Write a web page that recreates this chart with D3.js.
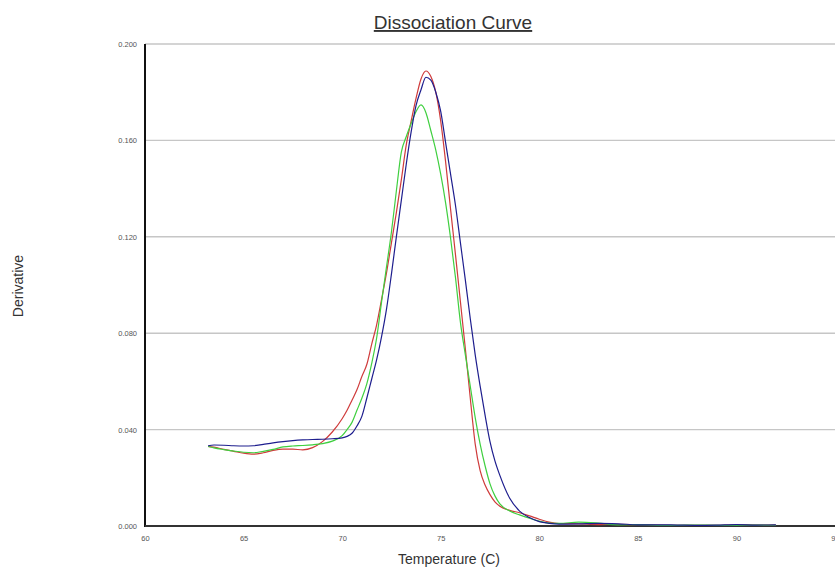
<!DOCTYPE html>
<html>
<head>
<meta charset="utf-8">
<script src="https://cdn.jsdelivr.net/npm/d3@7/dist/d3.min.js"></script>
<style>
  body { margin: 0; background: #fff; }
  svg { display: block; font-family: "Liberation Sans", Arial, sans-serif; }
</style>
</head>
<body>
<svg id="chart"></svg>
<script>
// Dissociation curve: three melt-curve derivatives

const temps = [63.2, 63.5, 64, 64.5, 65, 65.5, 66, 66.5, 67, 67.5, 68, 68.5, 69, 69.5, 70,
  70.25, 70.5, 70.75, 71, 71.25, 71.5, 71.75, 72, 72.25, 72.5, 72.75, 73, 73.25, 73.5, 73.75, 74,
  74.25, 74.5, 74.75, 75, 75.25, 75.5, 75.75, 76, 76.25, 76.5, 76.75, 77, 77.25, 77.5, 77.75, 78,
  78.5, 79, 79.5, 80, 80.5, 81, 82, 83, 84, 85, 86, 87, 88, 89, 90, 91, 92];

const redVals = [.0330, .0327, .0318, .0310, .0302, .0298, .0304, .0314, .0319, .0319, .0316, .0325, .0350, .0390, .0445,
  .0480, .0522, .0565, .0620, .0670, .0755, .0835, .0940, .1050, .1175, .1300, .1435, .1580, .1680, .1775, .1855,
  .1888, .1865, .1800, .1680, .1510, .1315, .1125, .0930, .0735, .0530, .0340, .0230, .0170, .0130, .0100, .0082,
  .0065, .0055, .0042, .0028, .0016, .0010, .0009, .0006, .0007, .0006, .0004, .0003, .0003, .0003, .0005, .0004, .0004];

const greenVals = [.0330, .0324, .0317, .0311, .0306, .0304, .0310, .0318, .0328, .0332, .0334, .0337, .0342, .0352, .0375,
  .0400, .0430, .0480, .0530, .0590, .0675, .0780, .0930, .1075, .1220, .1390, .1550, .1615, .1670, .1720, .1747,
  .1715, .1640, .1560, .1460, .1340, .1195, .1030, .0845, .0710, .0580, .0450, .0340, .0250, .0175, .0125, .0092,
  .0062, .0046, .0032, .0020, .0012, .0011, .0016, .0012, .0005, .0006, .0003, .0003, .0004, .0003, .0003, .0004, .0003];

const blueVals = [.0333, .0336, .0335, .0333, .0332, .0333, .0339, .0345, .0350, .0354, .0357, .0359, .0360, .0362, .0366,
  .0372, .0385, .0415, .0455, .0530, .0610, .0690, .0786, .0900, .1045, .1200, .1350, .1500, .1635, .1745, .1810,
  .1862, .1850, .1800, .1720, .1590, .1460, .1330, .1175, .1020, .0860, .0710, .0580, .0460, .0350, .0270, .0210,
  .0115, .0062, .0035, .0018, .0011, .0008, .0009, .0011, .0009, .0005, .0005, .0004, .0003, .0004, .0006, .0004, .0005];

const xTicks = [60, 65, 70, 75, 80, 85, 90, 95];
const yTicks = [0, 0.04, 0.08, 0.12, 0.16, 0.2];

const series = [
  { name: "red", color: "#cf3b3b", values: redVals },
  { name: "green", color: "#3fcf3f", values: greenVals },
  { name: "blue", color: "#1e1e8e", values: blueVals }
];

const W = 835, H = 575;
const M = { top: 44, right: 0, bottom: 49, left: 145 };
const innerW = W - M.left - M.right;
const innerH = H - M.top - M.bottom;

const svg = d3.select("#chart").attr("width", W).attr("height", H);
const g = svg.append("g").attr("transform", `translate(${M.left},${M.top})`);

const x = d3.scaleLinear().domain([60, 95]).range([0, innerW]);
const y = d3.scaleLinear().domain([0, 0.2]).range([innerH, 0]);

// Horizontal gridlines
g.append("g")
  .selectAll("line")
  .data(yTicks.filter(d => d > 0))
  .join("line")
  .attr("x1", 0).attr("x2", innerW)
  .attr("y1", d => y(d)).attr("y2", d => y(d))
  .attr("stroke", "#c6c6c6")
  .attr("stroke-width", 1.4);

// Y axis
const yAxis = g.append("g")
  .call(d3.axisLeft(y).tickValues(yTicks).tickSize(0).tickPadding(8)
    .tickFormat(d3.format(".3f")));
yAxis.select(".domain").remove();
yAxis.selectAll("text")
  .attr("font-size", 7.5).attr("fill", "#555")
  .attr("font-family", "Liberation Sans, Arial, sans-serif");

// X axis
const xAxis = g.append("g")
  .attr("transform", `translate(0,${innerH})`)
  .call(d3.axisBottom(x).tickValues(xTicks).tickSize(0).tickPadding(10)
    .tickFormat(d3.format("d")));
xAxis.select(".domain").remove();
xAxis.selectAll("text")
  .attr("font-size", 7.5).attr("fill", "#555")
  .attr("font-family", "Liberation Sans, Arial, sans-serif");

// Axis lines
g.append("line")
  .attr("x1", 0).attr("x2", 0)
  .attr("y1", y(0.2)).attr("y2", innerH + 1)
  .attr("stroke", "#111").attr("stroke-width", 2);
g.append("line")
  .attr("x1", 0).attr("x2", innerW)
  .attr("y1", innerH).attr("y2", innerH)
  .attr("stroke", "#333").attr("stroke-width", 2);

// Curves
const line = d3.line()
  .x((d, i) => x(temps[i]))
  .y(d => y(d))
  .curve(d3.curveMonotoneX);

g.selectAll(".curve")
  .data(series)
  .join("path")
  .attr("class", "curve")
  .attr("fill", "none")
  .attr("stroke", d => d.color)
  .attr("stroke-width", 1.2)
  .attr("stroke-linejoin", "round")
  .attr("d", d => line(d.values));

// Title and axis labels
svg.append("text")
  .attr("x", 453).attr("y", 29)
  .attr("text-anchor", "middle")
  .attr("font-size", 19)
  .attr("fill", "#333")
  .attr("text-decoration", "underline")
  .text("Dissociation Curve");

svg.append("text")
  .attr("transform", "translate(23,286) rotate(-90)")
  .attr("text-anchor", "middle")
  .attr("font-size", 14)
  .attr("fill", "#333")
  .text("Derivative");

svg.append("text")
  .attr("x", 449).attr("y", 564)
  .attr("text-anchor", "middle")
  .attr("font-size", 14)
  .attr("fill", "#333")
  .text("Temperature (C)");
</script>
</body>
</html>
